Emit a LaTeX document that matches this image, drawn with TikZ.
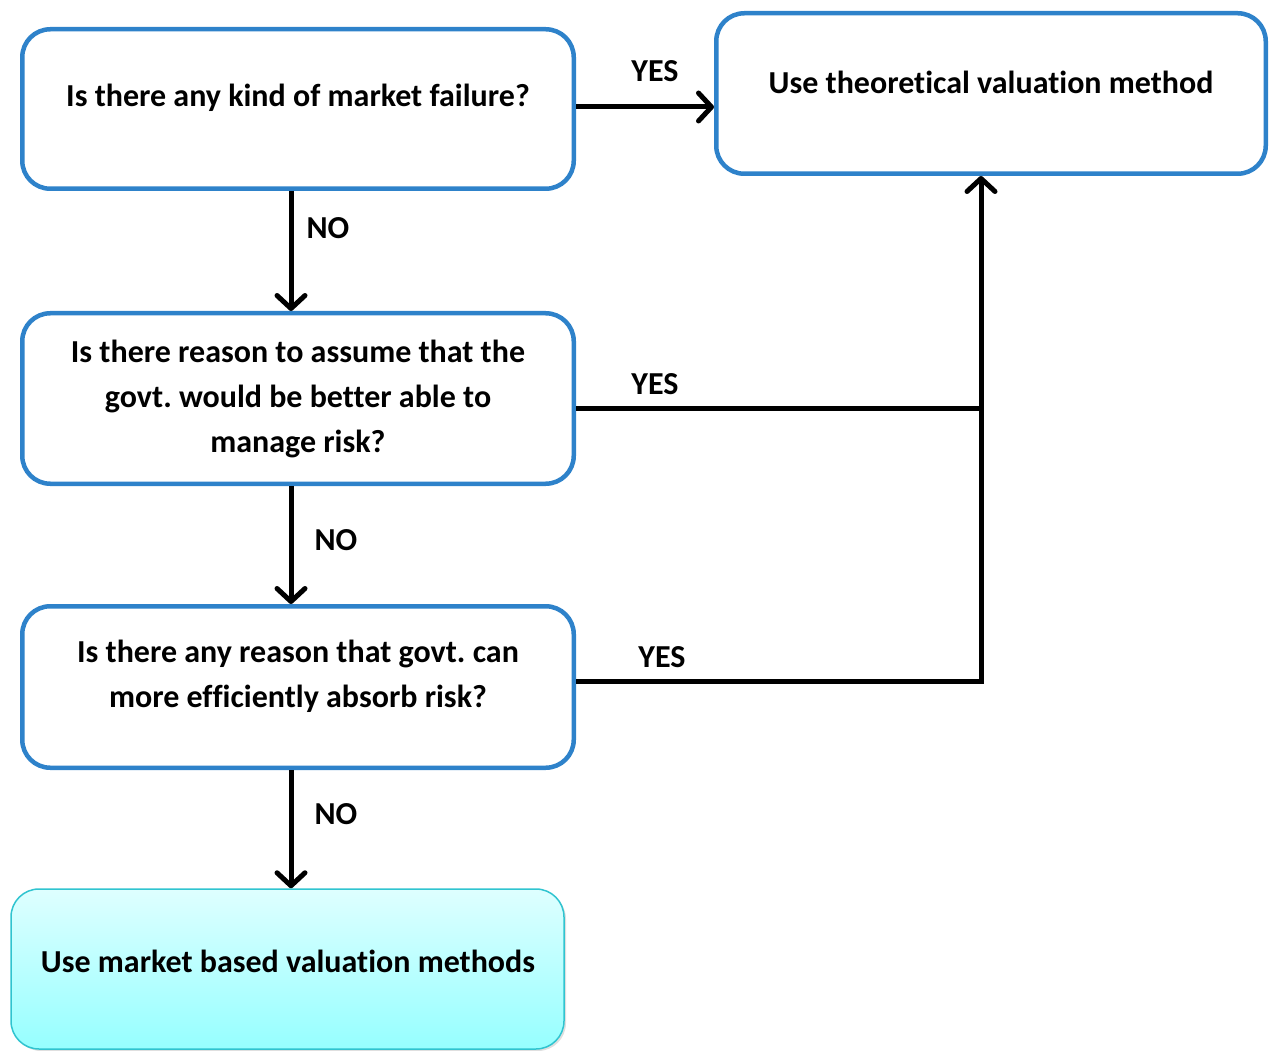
\documentclass[tikz,border=0pt]{standalone}
\usepackage{fontspec}
\setmainfont{Carlito}[Ligatures=NoCommon]
\frenchspacing
\usetikzlibrary{arrows.meta,shadows}
\definecolor{boxblue}{RGB}{46,130,202}
\definecolor{endline}{RGB}{48,196,208}
\definecolor{endtop}{RGB}{222,255,255}
\definecolor{endbot}{RGB}{150,255,255}
\begin{document}
\begin{tikzpicture}[x=1pt,y=-1pt,
  qbox/.style={draw=boxblue, line width=4.5pt, rounded corners=28pt, fill=white,
    minimum width=551.5pt, inner sep=0pt},
  endbox/.style={draw=endline, line width=1.5pt, rounded corners=28pt,
    top color=endtop, bottom color=endbot, minimum width=553pt, inner sep=0pt,
    drop shadow={shadow xshift=2pt, shadow yshift=-2pt, opacity=0.25}},
  txt/.style={font=\bfseries\fontsize{32}{45}\selectfont, align=center, inner sep=0pt},
  lbl/.style={font=\bfseries\fontsize{32}{36}\selectfont, inner sep=0pt},
  link/.style={line width=5pt, black},
  arr/.style={link, -{Straight Barb[length=13pt, width=28pt, round]}}]
\useasboundingbox (0,0) rectangle (1270,1051);

% question and outcome boxes
\node[qbox, minimum height=159.5pt] (q1) at (298,109) {};
\node[qbox, minimum width=549.5pt, minimum height=160.5pt] (use) at (991,93.5) {};
\node[qbox, minimum height=170.5pt] (q2) at (298,398.5) {};
\node[qbox, minimum height=161.5pt] (q3) at (298,687) {};
\node[endbox, minimum height=160pt] (market) at (287.5,969) {};

% box texts
\node[txt] (t1) at (298,98) {Is there any kind of market failure?};
\node[txt] (tu) at (991,82) {Use theoretical valuation method};
\node[txt] (t2) at (298,399) {Is there reason to assume that the\\govt. would be better able to\\manage risk?};
\node[txt] (t3) at (298,676.5) {Is there any reason that govt. can\\more efficiently absorb risk?};
\node[txt] (tm) at (288,961) {Use market based valuation methods};

% guide coordinates for the connectors
\coordinate (spine) at (291,0);
\coordinate (riser) at (981,0);
\coordinate (row1) at (0,107);
\coordinate (row2) at (0,408);
\coordinate (row3) at (0,681);

% NO branches
\draw[arr] (spine |- q1.south) -- (spine |- q2.north);
\draw[arr] (spine |- q2.south) -- (spine |- q3.north);
\draw[arr] (spine |- q3.south) -- (spine |- market.north);

% YES branches
\draw[arr] (row1 -| q1.east) -- (row1 -| use.west);
\draw[link] (row2 -| q2.east) -- (row2 -| riser);
\draw[arr, line join=miter] (row3 -| q3.east) -- (row3 -| riser) -- (riser |- use.south);

% branch labels
\node[lbl] (y1) at (655,71) {YES};
\node[lbl] (y2) at (655,384) {YES};
\node[lbl] (y3) at (662,657) {YES};
\node[lbl] (n1) at (328,228) {NO};
\node[lbl] (n2) at (336,540) {NO};
\node[lbl] (n3) at (336,814) {NO};
\end{tikzpicture}
\end{document}
